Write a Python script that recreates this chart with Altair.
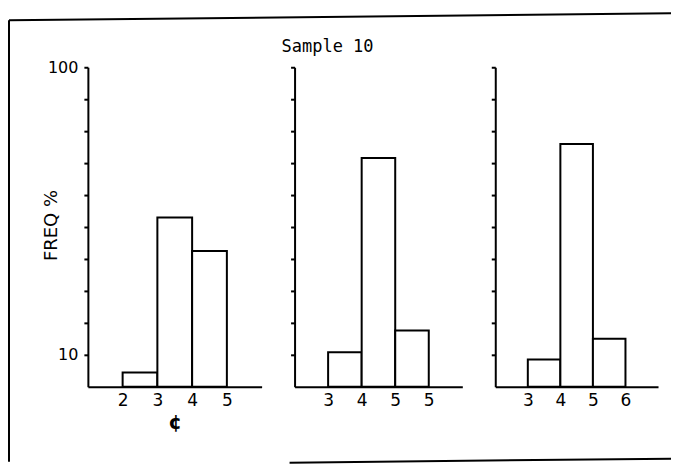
import altair as alt
import pandas as pd

# ---- data ----
panel = [1, 1, 1, 2, 2, 2, 3, 3, 3]
bin_start = [2, 3, 4, 3, 4, 5, 3, 4, 5]
bin_end = [3, 4, 5, 4, 5, 6, 4, 5, 6]
freq = [4.5, 53, 42.5, 10.8, 71.6, 17.6, 8.5, 76, 15]

y_ticks = [10, 20, 30, 40, 50, 60, 70, 80, 90, 100]
y_labelled = [10, 100]

x_ticks = {1: [2, 3, 4, 5], 2: [3, 4, 5, 6], 3: [3, 4, 5, 6]}
x_labels = {1: ["2", "3", "4", "5"], 2: ["3", "4", "5", "5"], 3: ["3", "4", "5", "6"]}
x_domain = {1: [1, 6], 2: [2, 7], 3: [2, 7]}
widths = {1: 174, 2: 168, 3: 163}

title_text = "Sample 10"
y_title = "FREQ %"
x_title = "¢"

df = pd.DataFrame({"panel": panel, "start": bin_start, "end": bin_end, "freq": freq})
frame_df = pd.DataFrame({"k": [0]})

FONT = "DejaVu Sans"


def label_expr(vals, labs):
    expr = "''"
    for v, l in reversed(list(zip(vals, labs))):
        expr = f"datum.value == {v} ? '{l}' : ({expr})"
    return expr


def make_panel(p):
    d = df[df.panel == p]
    if p == 1:
        yaxis = alt.Axis(
            values=y_ticks,
            labelExpr="datum.value == 100 || datum.value == 10 ? datum.label : ''",
            title=y_title,
            titleX=-36,
            titleY=158,
            titleAlign="center",
            titleBaseline="middle",
            titleFontSize=18,
            titleFontWeight="normal",
            titleFont=FONT,
            labelFontSize=16,
            labelPadding=6,
            grid=False,
        )
        xaxis = alt.Axis(
            values=x_ticks[p],
            labelExpr=label_expr(x_ticks[p], x_labels[p]),
            title=x_title,
            titleFontSize=20,
            titleFontWeight="bold",
            titlePadding=4,
            grid=False,
        )
    else:
        yaxis = alt.Axis(values=y_ticks, labels=False, title=None, grid=False)
        xaxis = alt.Axis(
            values=x_ticks[p],
            labelExpr=label_expr(x_ticks[p], x_labels[p]),
            title=None,
            grid=False,
        )
    bars = alt.Chart(d).mark_bar(fill="white", stroke="black", strokeWidth=2).encode(
        x=alt.X("start:Q", scale=alt.Scale(domain=x_domain[p], nice=False, zero=False), axis=xaxis),
        x2="end:Q",
        y=alt.Y("freq:Q", scale=alt.Scale(domain=[0, 100], nice=False), axis=yaxis),
        y2=alt.datum(0),
    )
    layers = [bars]
    if p == 1:
        base = alt.Chart(frame_df).mark_rule(color="black", strokeWidth=2)
        layers += [
            base.encode(x=alt.value(-79), y=alt.value(-47), y2=alt.value(395)),
            base.encode(x=alt.value(-79), x2=alt.value(584), y=alt.value(-47), y2=alt.value(-54)),
            base.encode(x=alt.value(202), x2=alt.value(584), y=alt.value(396), y2=alt.value(392)),
        ]
    ch = alt.layer(*layers).properties(width=widths[p], height=320)
    if p == 2:
        ch = ch.properties(
            title=alt.TitleParams(
                title_text, dx=-51, offset=10, font="DejaVu Sans Mono",
                fontSize=17, fontWeight="normal", color="black",
            )
        )
    return ch


chart = alt.hconcat(
    make_panel(1), make_panel(2), make_panel(3), spacing=33, bounds="flush"
).properties(
    padding={"left": 0, "top": 4, "right": 0, "bottom": 0},
    background="white",
).configure_view(stroke=None).configure_axis(
    domainColor="black",
    domainWidth=2,
    tickColor="black",
    tickWidth=2,
    tickSize=4,
    labelColor="black",
    titleColor="black",
    labelFont=FONT,
    titleFont=FONT,
    labelFontSize=17,
).configure_axisX(ticks=False, labelPadding=6)

chart.save("out.html", embed_options={"renderer": "svg", "actions": False})
